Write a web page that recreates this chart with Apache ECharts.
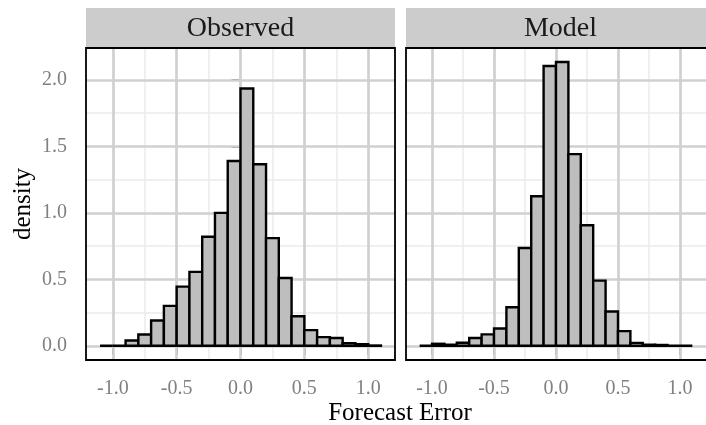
<!DOCTYPE html>
<html><head><meta charset="utf-8">
<script src="https://cdn.jsdelivr.net/npm/echarts@6/dist/echarts.min.js"></script>
<style>html,body{margin:0;padding:0;background:#fff}#c{width:706px;height:425px}</style>
</head><body><div id="c"></div>
<script>
// Histogram bins (lower edges), width 0.1
const binEdges = [-1.1,-1.0,-0.9,-0.8,-0.7,-0.6,-0.5,-0.4,-0.3,-0.2,-0.1,0.0,0.1,0.2,0.3,0.4,0.5,0.6,0.7,0.8,0.9,1.0];
const binWidth = 0.1;
const observed = [0.0,0.0,0.04,0.085,0.19,0.30,0.445,0.556,0.82,1.0,1.39,1.935,1.365,0.81,0.51,0.222,0.118,0.065,0.058,0.02,0.012,0.002];
const model    = [0.0,0.015,0.008,0.023,0.058,0.086,0.13,0.29,0.736,1.125,2.105,2.135,1.442,0.907,0.49,0.258,0.11,0.022,0.008,0.006,0.0,0.0];
const panelTitles = ['Observed','Model'];
const xTicks = [-1.0,-0.5,0.0,0.5,1.0];
const xMinor = [-0.75,-0.25,0.25,0.75];
const yTicks = [0.0,0.5,1.0,1.5,2.0];
const yMinor = [0.25,0.75,1.25,1.75];
const xTitle = 'Forecast Error';
const yTitle = 'density';

const FONT = '"Liberation Serif","DejaVu Serif",serif';
const panels = [{left:86, width:309},{left:406, width:309}];
const gTop = 48, gHeight = 312;
const xMin = -1.21, xMax = 1.21, yMin = -0.107, yMax = 2.24;

const chart = echarts.init(document.getElementById('c'), null, {renderer:'canvas'});

const grids = panels.map(p => ({left:p.left, width:p.width, top:gTop, height:gHeight, show:true, backgroundColor:'#fff', borderWidth:0}));
const xAxes = panels.map((p,i) => ({
  type:'value', gridIndex:i, min:xMin, max:xMax,
  axisLine:{show:false}, splitLine:{show:false},
  axisTick:{show:true, customValues:xTicks, length:9, lineStyle:{color:'#6e6e6e', width:2}},
  axisLabel:{show:true, customValues:xTicks, margin:19, color:'#808080', fontFamily:FONT, fontSize:20, formatter:v=>v.toFixed(1)}
}));
const yAxes = panels.map((p,i) => ({
  type:'value', gridIndex:i, min:yMin, max:yMax,
  axisLine:{show:false}, splitLine:{show:false},
  axisTick:{show:i===0, customValues:yTicks, length:9, lineStyle:{color:'#6e6e6e', width:2}},
  axisLabel:{show:i===0, customValues:yTicks, margin:19, color:'#808080', fontFamily:FONT, fontSize:20, formatter:v=>v.toFixed(1)}
}));

function gridLineSeries(i){
  const data = [];
  xMinor.forEach(v=>data.push({xAxis:v, lineStyle:{color:'#ebebeb', width:1.5, type:'solid'}}));
  yMinor.forEach(v=>data.push({yAxis:v, lineStyle:{color:'#ebebeb', width:1.5, type:'solid'}}));
  xTicks.forEach(v=>data.push({xAxis:v, lineStyle:{color:'#d0d0d0', width:2.7, type:'solid'}}));
  yTicks.forEach(v=>data.push({yAxis:v, lineStyle:{color:'#d0d0d0', width:2.7, type:'solid'}}));
  return {
    type:'line', xAxisIndex:i, yAxisIndex:i, data:[], silent:true, z:1,
    markLine:{silent:true, z:1, symbol:['none','none'], label:{show:false}, animation:false, data:data}
  };
}

function histSeries(i, values){
  return {
    type:'custom', xAxisIndex:i, yAxisIndex:i, z:3, silent:true, animation:false,
    data: binEdges.map((e,k)=>[e, e+binWidth, values[k]]),
    renderItem:(params, api)=>{
      const p0 = api.coord([api.value(0), api.value(2)]);
      const p1 = api.coord([api.value(1), 0]);
      return {type:'rect', shape:{x:p0[0], y:p0[1], width:p1[0]-p0[0], height:p1[1]-p0[1]},
        style:{fill:'#bebebe', stroke:'#000', lineWidth:2.4}};
    }
  };
}

const graphic = [];
panels.forEach((p,i)=>{
  graphic.push({type:'rect', shape:{x:p.left, y:8, width:p.width, height:gTop-8}, style:{fill:'#cccccc'}, z:10});
  graphic.push({type:'text', x:p.left+p.width/2, y:29, z:11, style:{text:panelTitles[i], fill:'#1a1a1a', font:'28px '+FONT, textAlign:'center', textVerticalAlign:'middle'}});
  graphic.push({type:'rect', shape:{x:p.left, y:gTop, width:p.width, height:gHeight}, style:{fill:null, stroke:'#000', lineWidth:1.8}, z:20});
});
graphic.push({type:'text', x:400, y:413, z:11, style:{text:xTitle, fill:'#000', font:'25px '+FONT, textAlign:'center', textVerticalAlign:'middle'}});
graphic.push({type:'text', x:23, y:204, rotation:Math.PI/2, z:11, style:{text:yTitle, fill:'#000', font:'25px '+FONT, textAlign:'center', textVerticalAlign:'middle'}});

chart.setOption({
  animation:false,
  backgroundColor:'#fff',
  grid:grids, xAxis:xAxes, yAxis:yAxes,
  series:[gridLineSeries(0), gridLineSeries(1), histSeries(0, observed), histSeries(1, model)],
  graphic:graphic
});
</script></body></html>
